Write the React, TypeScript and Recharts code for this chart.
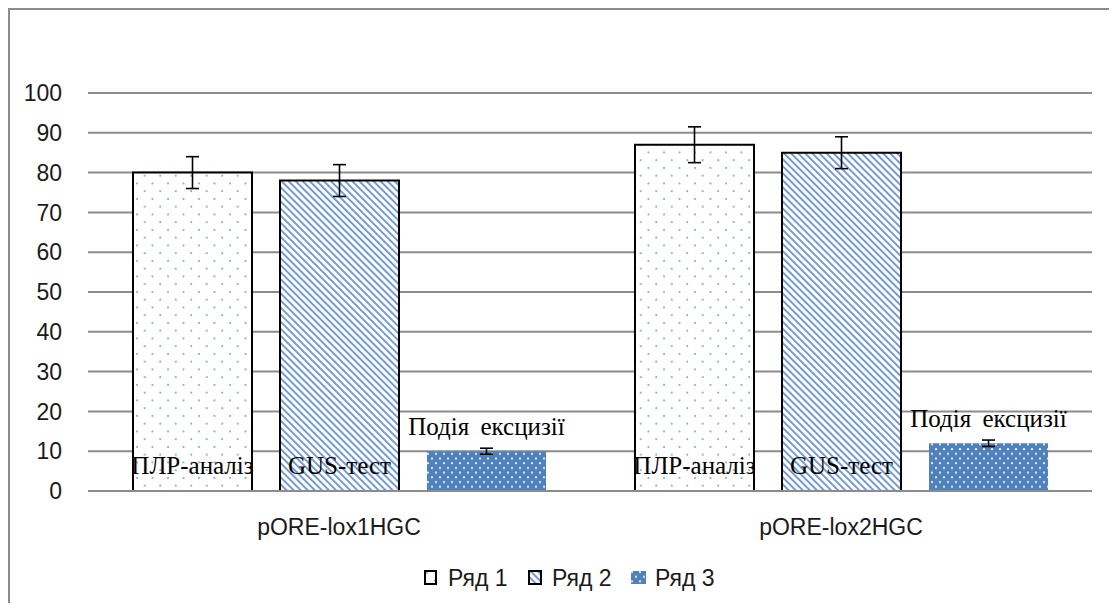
import React from 'react';
import { BarChart, Bar, XAxis, YAxis, CartesianGrid, ErrorBar, LabelList, Legend } from 'recharts';

const categories = ['pORE-lox1HGC', 'pORE-lox2HGC'];
const seriesNames = ['Ряд 1', 'Ряд 2', 'Ряд 3'];
const series1 = [80, 87];
const series2 = [78, 85];
const series3 = [10, 12];
const error1 = [4, 4.5];
const error2 = [4, 4];
const error3 = [0.75, 0.8];
const barLabels = ['ПЛР-аналіз', 'GUS-тест', 'Подія ексцизії'];
const yTicks = [0, 10, 20, 30, 40, 50, 60, 70, 80, 90, 100];

const data = categories.map((c, i) => ({
  category: c,
  s1: series1[i],
  s2: series2[i],
  s3: series3[i],
  e1: error1[i],
  e2: error2[i],
  e3: error3[i],
}));

const SANS = 'Liberation Sans, Arial, sans-serif';
const SERIF = 'Liberation Serif, Times New Roman, serif';
const GRID = '#8c8c8c';
const BLUE = '#4f81bd';

const geom = (props: any) => {
  const vb = props.viewBox || {};
  const x = props.x ?? vb.x;
  const y = props.y ?? vb.y;
  const width = props.width ?? vb.width;
  const height = props.height ?? vb.height;
  return { x: Number(x), y: Number(y), width: Number(width), height: Number(height) };
};

const insideLabel = (text: string) => (props: any) => {
  const { x, y, width, height } = geom(props);
  return (
    <text x={x + width / 2} y={y + height - 17} textAnchor="middle" fontFamily={SERIF} fontSize={25} fill="#000">
      {text}
    </text>
  );
};

const aboveLabel = (text: string) => (props: any) => {
  const { x, y, width } = geom(props);
  return (
    <text x={x + width / 2} y={y - 16} textAnchor="middle" fontFamily={SERIF} fontSize={25} fill="#000" wordSpacing={5}>
      {text}
    </text>
  );
};

const swatchFills = ['url(#pat1)', 'url(#pat2)', 'url(#pat3)'];
const swatchStroke = ['#000', '#000', 'none'];
const swatchW = [13, 14, 17];
const swatchLeft = [414, 518, 620];
const textLeft = [438, 542, 645];

const renderLegend = () => (
  <div style={{ position: 'relative', height: 30, width: 1099 }}>
    {seriesNames.map((n, i) => (
      <React.Fragment key={n}>
        <svg
          width={swatchW[i]}
          height={15}
          style={{ position: 'absolute', left: swatchLeft[i], top: 7 }}
        >
          <rect
            x={1}
            y={1}
            width={swatchW[i] - 2}
            height={13}
            fill={swatchFills[i]}
            stroke={swatchStroke[i]}
            strokeWidth={2}
          />
        </svg>
        <span
          style={{
            position: 'absolute',
            left: textLeft[i],
            top: 0,
            lineHeight: '30px',
            fontFamily: SANS,
            fontSize: 23,
            color: '#1a1a1a',
            whiteSpace: 'nowrap',
          }}
        >
          {n}
        </span>
      </React.Fragment>
    ))}
  </div>
);

export default function App() {
  return (
    <div
      style={{
        width: 1101,
        height: 595,
        borderLeft: `2px solid ${GRID}`,
        borderTop: `2px solid ${GRID}`,
        boxSizing: 'border-box',
        background: '#fff',
      }}
    >
      <BarChart
        width={1099}
        height={593}
        data={data}
        margin={{ top: 83, right: 17, left: 0, bottom: 10 }}
        barSize={119}
        barGap={28}
      >
        <defs>
          <pattern id="pat1" patternUnits="userSpaceOnUse" width={15.5} height={15.5}>
            <rect width={15.5} height={15.5} fill="#fff" />
            <circle cx={3} cy={3} r={0.95} fill={BLUE} fillOpacity={0.85} />
            <circle cx={10.75} cy={10.75} r={0.95} fill={BLUE} fillOpacity={0.85} />
          </pattern>
          <pattern
            id="pat2"
            patternUnits="userSpaceOnUse"
            width={5}
            height={5}
            patternTransform="rotate(-45)"
          >
            <rect width={5} height={5} fill="#fff" />
            <rect width={1.9} height={5} fill="#6f97d0" />
          </pattern>
          <pattern id="pat3" patternUnits="userSpaceOnUse" width={8} height={9.4}>
            <rect width={8} height={9.4} fill={BLUE} />
            <circle cx={2} cy={2} r={1.05} fill="#fff" fillOpacity={0.95} />
            <circle cx={6} cy={6.7} r={1.05} fill="#fff" fillOpacity={0.95} />
          </pattern>
        </defs>
        <CartesianGrid vertical={false} stroke={GRID} strokeWidth={2} />
        <XAxis
          dataKey="category"
          height={72}
          axisLine={{ stroke: GRID, strokeWidth: 2 }}
          tickLine={false}
          tickSize={6}
          tickMargin={22}
          tick={{ fontFamily: SANS, fontSize: 23, fill: '#1a1a1a' }}
        />
        <YAxis
          width={78}
          domain={[0, 100]}
          ticks={yTicks}
          interval={0}
          axisLine={false}
          tickLine={false}
          tickSize={6}
          tickMargin={20}
          tick={{ fontFamily: SANS, fontSize: 23, fill: '#1a1a1a' }}
        />
        <Legend verticalAlign="bottom" wrapperStyle={{ left: 0, width: 1099 }} content={renderLegend} />
        <Bar dataKey="s1" name={seriesNames[0]} fill="url(#pat1)" stroke="#000" strokeWidth={2} isAnimationActive={false}>
          <ErrorBar dataKey="e1" width={6.5} stroke="#000" strokeWidth={1.6} direction="y" />
          <LabelList dataKey="s1" content={insideLabel(barLabels[0])} />
        </Bar>
        <Bar dataKey="s2" name={seriesNames[1]} fill="url(#pat2)" stroke="#000" strokeWidth={2} isAnimationActive={false}>
          <ErrorBar dataKey="e2" width={6.5} stroke="#000" strokeWidth={1.6} direction="y" />
          <LabelList dataKey="s2" content={insideLabel(barLabels[1])} />
        </Bar>
        <Bar dataKey="s3" name={seriesNames[2]} fill="url(#pat3)" isAnimationActive={false}>
          <ErrorBar dataKey="e3" width={6.5} stroke="#000" strokeWidth={1.6} direction="y" />
          <LabelList dataKey="s3" content={aboveLabel(barLabels[2])} />
        </Bar>
      </BarChart>
    </div>
  );
}
